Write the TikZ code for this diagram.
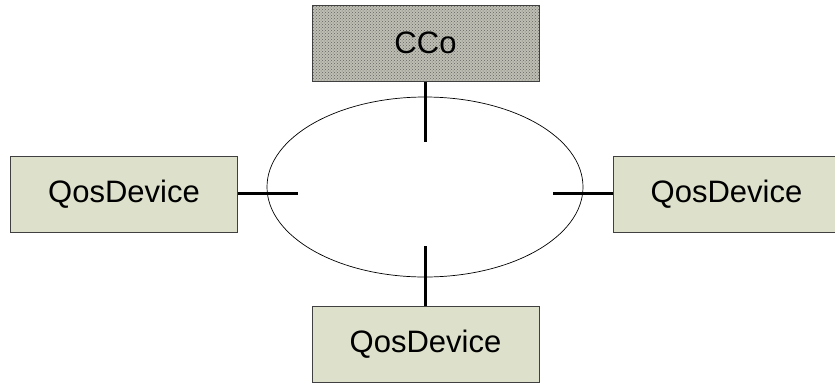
\documentclass[tikz,border=0pt]{standalone}
\usepackage{fontspec}
\setmainfont{Liberation Sans}
\usetikzlibrary{patterns,shapes.geometric}
\definecolor{devfill}{RGB}{221,224,202}
\definecolor{ccofill}{RGB}{190,190,180}
\definecolor{ccodot}{RGB}{100,100,95}
\tikzset{
  devbox/.style={draw=black!75, line width=0.9pt, fill=devfill, minimum width=227pt, minimum height=76pt, inner sep=0pt, font=\fontsize{31}{36}\selectfont},
  ccobox/.style={draw=black!75, line width=0.9pt, minimum width=227pt, minimum height=76pt, inner sep=0pt, font=\fontsize{31}{36}\selectfont},
  link/.style={line width=3pt},
  ring/.style={draw, line width=0.7pt}
}
\begin{document}
\begin{tikzpicture}[x=1pt,y=-1pt]
\clip (0,0) rectangle (835,383);
\useasboundingbox (0,0) rectangle (835,383);
\node[ring, ellipse, minimum width=316pt, minimum height=180pt, inner sep=0pt] (net) at (425,187) {};
\fill[ccofill] (312,5.5) rectangle (539,81);
\fill[pattern=crosshatch dots, pattern color=ccodot] (312,5.5) rectangle (539,81);
\node[ccobox] (cco) at (425.5,43.25) {CCo};
\node[devbox] (left) at (124,194) {QosDevice};
\node[devbox] (right) at (726.5,194) {QosDevice};
\node[devbox] (bottom) at (425.5,344.5) {QosDevice};
\coordinate (ct) at (425,142);
\coordinate (cl) at (298,193);
\coordinate (cr) at (553,193);
\coordinate (cb) at (425,246);
\draw[link] (cco.south -| ct) -- (ct);
\draw[link] (left.east |- cl) -- (cl);
\draw[link] (right.west |- cr) -- (cr);
\draw[link] (bottom.north -| cb) -- (cb);
\end{tikzpicture}
\end{document}
